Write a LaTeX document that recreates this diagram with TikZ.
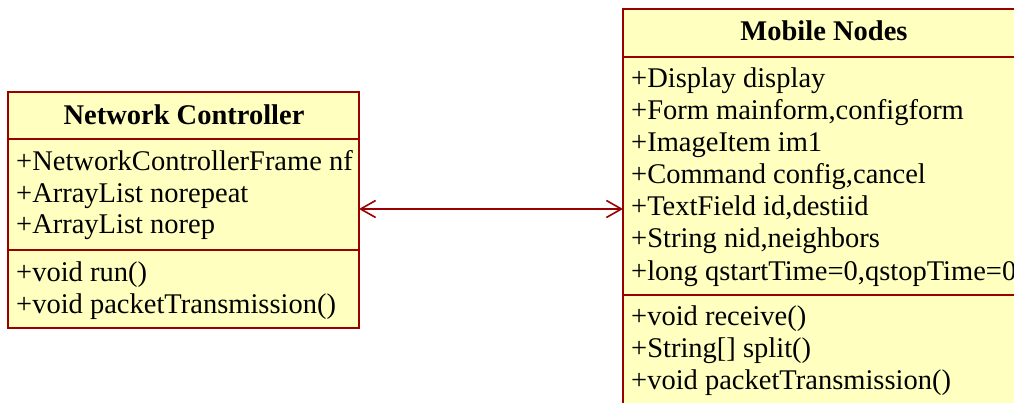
\documentclass[tikz,border=0pt]{standalone}
\usepackage{fontspec}
\setmainfont{Liberation Serif}
\usetikzlibrary{arrows.meta}
\definecolor{umlborder}{HTML}{990000}
\definecolor{umlfill}{HTML}{FFFFC0}
\begin{document}
\begin{tikzpicture}[x=1pt,y=-1pt,
  classbox/.style={draw=umlborder, fill=umlfill, line width=1.6pt, inner sep=0pt, outer sep=0pt, anchor=north west},
  divider/.style={draw=umlborder, line width=1.6pt},
  conn/.style={draw=umlborder, line width=2.4pt, {Straight Barb[length=15pt,width=17pt,line width=1.6pt]}-{Straight Barb[length=15pt,width=17pt,line width=1.6pt]}},
  title/.style={font=\fontsize{28.5}{32}\selectfont\bfseries, anchor=base, inner sep=0pt},
  member/.style={font=\fontsize{28.5}{32}\selectfont, anchor=base west, inner sep=0pt}]
\useasboundingbox (0,0) rectangle (1014,403);
\clip (0,0) rectangle (1014,403);
% Network Controller
\node[classbox, minimum width=351pt, minimum height=236pt] (nc) at (8,92) {};
\draw[divider] (8,139) -- (359,139);
\draw[divider] (8,250) -- (359,250);
\node[title] (nct) at (184,125) {Network Controller};
\node[member] (nca1) at (16,171) {+NetworkControllerFrame nf};
\node[member] (nca2) at (16,202.5) {+ArrayList norepeat};
\node[member] (nca3) at (16,234) {+ArrayList norep};
\node[member] (ncm1) at (16,281.5) {+void run()};
\node[member] (ncm2) at (16,313) {+void packetTransmission()};
% Mobile Nodes
\node[classbox, minimum width=402pt, minimum height=420pt] (mn) at (623,9) {};
\draw[divider] (623,57) -- (1025,57);
\draw[divider] (623,295) -- (1025,295);
\node[title] (mnt) at (824,41) {Mobile Nodes};
\node[member] (mna1) at (631,88) {+Display display};
\node[member] (mna2) at (631,120) {+Form mainform,configform};
\node[member] (mna3) at (631,152) {+ImageItem im1};
\node[member] (mna4) at (631,184) {+Command config,cancel};
\node[member] (mna5) at (631,216) {+TextField id,destiid};
\node[member] (mna6) at (631,248) {+String nid,neighbors};
\node[member] (mna7) at (631,280) {+long qstartTime=0,qstopTime=0};
\node[member] (mnm1) at (631,325) {+void receive()};
\node[member] (mnm2) at (631,357) {+String[] split()};
\node[member] (mnm3) at (631,389) {+void packetTransmission()};
% association
\coordinate (ca) at (nc.east |- 0,209);
\coordinate (cb) at (mn.west |- 0,209);
\draw[conn] (ca) -- (cb);
\end{tikzpicture}
\end{document}
